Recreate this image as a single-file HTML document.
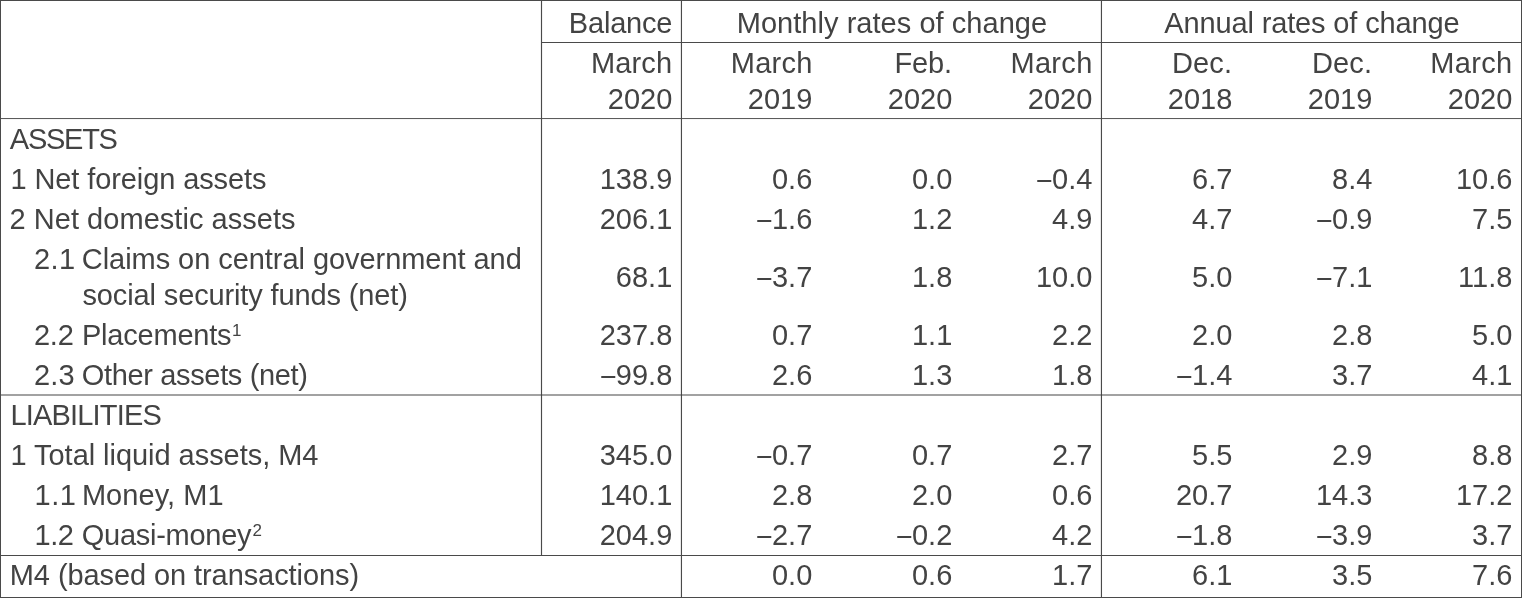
<!DOCTYPE html>
<html lang="en">
<head>
<meta charset="utf-8">
<title>Monetary aggregates</title>
<style>
html,body{margin:0;padding:0;background:#fff;}
body{width:1522px;height:598px;position:relative;overflow:hidden;font-family:"Liberation Sans", sans-serif;color:#434343;}
#grid{position:absolute;left:0;top:0;width:1522px;height:598px;}
table{position:absolute;left:0;top:0;width:1522px;height:598px;border-collapse:collapse;border-spacing:0;table-layout:fixed;font-size:29px;}
tr{height:40px;}
th,td{padding:0;margin:0;border:0;font-weight:normal;font-size:29px;line-height:40px;white-space:nowrap;vertical-align:top;overflow:visible;}
td.n,th.n{text-align:right;padding-right:9.70px;}
th.l,td.l{text-align:left;}
th.c{text-align:center;}
tr.h1{height:43px;} tr.h1 th{padding-top:3px;}
tr.h2{height:76px;} tr.h2 th{line-height:36px;padding-top:2px;padding-bottom:2px;}
tr.two{height:76px;} tr.two th{line-height:36px;padding-top:2px;padding-bottom:2px;} tr.two td{padding-top:18px;}
tr.last{height:43px;}
.no,.tx{display:inline-block;vertical-align:top;text-align:left;}
i{font-style:normal;display:inline-block;transform:translateX(-0.9px) scaleX(0.87);transform-origin:100% 50%;}
sup{font-size:17px;line-height:0;vertical-align:baseline;position:relative;top:-9px;letter-spacing:0;}
</style>
</head>
<body>
<svg id="grid" width="1522" height="598" viewBox="0 0 1522 598">
<g stroke="#4a4a4a" stroke-width="1.15" fill="none">
<line x1="541.5" y1="0" x2="541.5" y2="555.4"/>
<line x1="681.45" y1="0" x2="681.45" y2="598"/>
<line x1="1101.45" y1="0" x2="1101.45" y2="598"/>
<line x1="541.5" y1="42.45" x2="1522" y2="42.45"/>
<line x1="0" y1="118.55" x2="1522" y2="118.55" stroke-width="0.95"/>
<line x1="0" y1="395.0" x2="1522" y2="395.0" stroke-width="0.95" stroke="#3c3c3c"/>
<line x1="0" y1="555.45" x2="1522" y2="555.45"/>
</g>
<rect x="0.5" y="0.5" width="1521" height="597" fill="none" stroke="#4a4a4a" stroke-width="1"/>
</svg>
<table>
<colgroup><col style="width:542px"><col style="width:140px"><col style="width:140px"><col style="width:140px"><col style="width:140px"><col style="width:140px"><col style="width:140px"><col style="width:140px"></colgroup>
<thead>
<tr class="h1"><th class="l" rowspan="2"></th><th class="n" style="padding-right:9.77px;letter-spacing:-0.195px;">Balance</th><th class="c" colspan="3" style="padding-right:0.13px;letter-spacing:0.042px;">Monthly rates of change</th><th class="c" colspan="3" style="padding-right:0.31px;letter-spacing:-0.135px;">Annual rates of change</th></tr>
<tr class="h2"><th class="n"><span style="letter-spacing:0.164px;margin-right:0.01px;">March</span><br>2020</th><th class="n"><span style="letter-spacing:0.289px;margin-right:-0.42px;">March</span><br>2019</th><th class="n"><span style="letter-spacing:-0.090px;margin-right:0.23px;">Feb.</span><br>2020</th><th class="n"><span style="letter-spacing:0.339px;margin-right:-0.37px;">March</span><br>2020</th><th class="n"><span style="letter-spacing:0.176px;margin-right:0.07px;">Dec.</span><br>2018</th><th class="n"><span style="letter-spacing:0.176px;margin-right:0.07px;">Dec.</span><br>2019</th><th class="n"><span style="letter-spacing:0.289px;margin-right:-0.02px;">March</span><br>2020</th></tr>
</thead>
<tbody>
<tr><th class="l" scope="rowgroup" style="padding-left:9.80px;letter-spacing:-1.257px;">ASSETS</th><td class="n"></td><td class="n"></td><td class="n"></td><td class="n"></td><td class="n"></td><td class="n"></td><td class="n"></td></tr>
<tr><th class="l" scope="row" style="padding-left:10.50px;letter-spacing:-0.101px;">1 Net foreign assets</th><td class="n">138.9</td><td class="n">0.6</td><td class="n">0.0</td><td class="n"><i>–</i>0.4</td><td class="n">6.7</td><td class="n">8.4</td><td class="n">10.6</td></tr>
<tr><th class="l" scope="row" style="padding-left:9.50px;letter-spacing:0.041px;">2 Net domestic assets</th><td class="n">206.1</td><td class="n"><i>–</i>1.6</td><td class="n">1.2</td><td class="n">4.9</td><td class="n">4.7</td><td class="n"><i>–</i>0.9</td><td class="n">7.5</td></tr>
<tr class="two"><th class="l" scope="row" style="padding-left:33.90px;"><span class="no" style="width:47.90px;letter-spacing:0.500px;">2.1</span><span class="tx" style="letter-spacing:-0.053px;">Claims on central government and<br><span style="margin-left:0.70px;letter-spacing:-0.129px;">social security funds (net)</span></span></th><td class="n">68.1</td><td class="n"><i>–</i>3.7</td><td class="n">1.8</td><td class="n">10.0</td><td class="n">5.0</td><td class="n"><i>–</i>7.1</td><td class="n">11.8</td></tr>
<tr><th class="l" scope="row" style="padding-left:33.90px;"><span class="no" style="width:48.00px;letter-spacing:-0.193px;">2.2</span><span class="tx" style="letter-spacing:-0.202px;">Placements<sup style="margin-left:0.50px;">1</sup></span></th><td class="n">237.8</td><td class="n">0.7</td><td class="n">1.1</td><td class="n">2.2</td><td class="n">2.0</td><td class="n">2.8</td><td class="n">5.0</td></tr>
<tr><th class="l" scope="row" style="padding-left:33.90px;"><span class="no" style="width:47.90px;letter-spacing:0.157px;">2.3</span><span class="tx" style="letter-spacing:-0.349px;">Other assets (net)</span></th><td class="n"><i>–</i>99.8</td><td class="n">2.6</td><td class="n">1.3</td><td class="n">1.8</td><td class="n"><i>–</i>1.4</td><td class="n">3.7</td><td class="n">4.1</td></tr>
<tr><th class="l" scope="rowgroup" style="padding-left:10.50px;letter-spacing:-0.823px;">LIABILITIES</th><td class="n"></td><td class="n"></td><td class="n"></td><td class="n"></td><td class="n"></td><td class="n"></td><td class="n"></td></tr>
<tr><th class="l" scope="row" style="padding-left:10.50px;letter-spacing:-0.044px;">1 Total liquid assets, M4</th><td class="n">345.0</td><td class="n"><i>–</i>0.7</td><td class="n">0.7</td><td class="n">2.7</td><td class="n">5.5</td><td class="n">2.9</td><td class="n">8.8</td></tr>
<tr><th class="l" scope="row" style="padding-left:34.60px;"><span class="no" style="width:47.30px;letter-spacing:0.500px;">1.1</span><span class="tx" style="letter-spacing:0.067px;">Money, M1</span></th><td class="n">140.1</td><td class="n">2.8</td><td class="n">2.0</td><td class="n">0.6</td><td class="n">20.7</td><td class="n">14.3</td><td class="n">17.2</td></tr>
<tr><th class="l" scope="row" style="padding-left:34.60px;"><span class="no" style="width:47.20px;letter-spacing:-0.543px;">1.2</span><span class="tx" style="letter-spacing:-0.276px;">Quasi-money<sup style="margin-left:1.18px;">2</sup></span></th><td class="n">204.9</td><td class="n"><i>–</i>2.7</td><td class="n"><i>–</i>0.2</td><td class="n">4.2</td><td class="n"><i>–</i>1.8</td><td class="n"><i>–</i>3.9</td><td class="n">3.7</td></tr>
<tr class="last"><th class="l" scope="row" colspan="2" style="padding-left:9.80px;letter-spacing:-0.086px;">M4 (based on transactions)</th><td class="n">0.0</td><td class="n">0.6</td><td class="n">1.7</td><td class="n">6.1</td><td class="n">3.5</td><td class="n">7.6</td></tr>
</tbody>
</table>
</body>
</html>
